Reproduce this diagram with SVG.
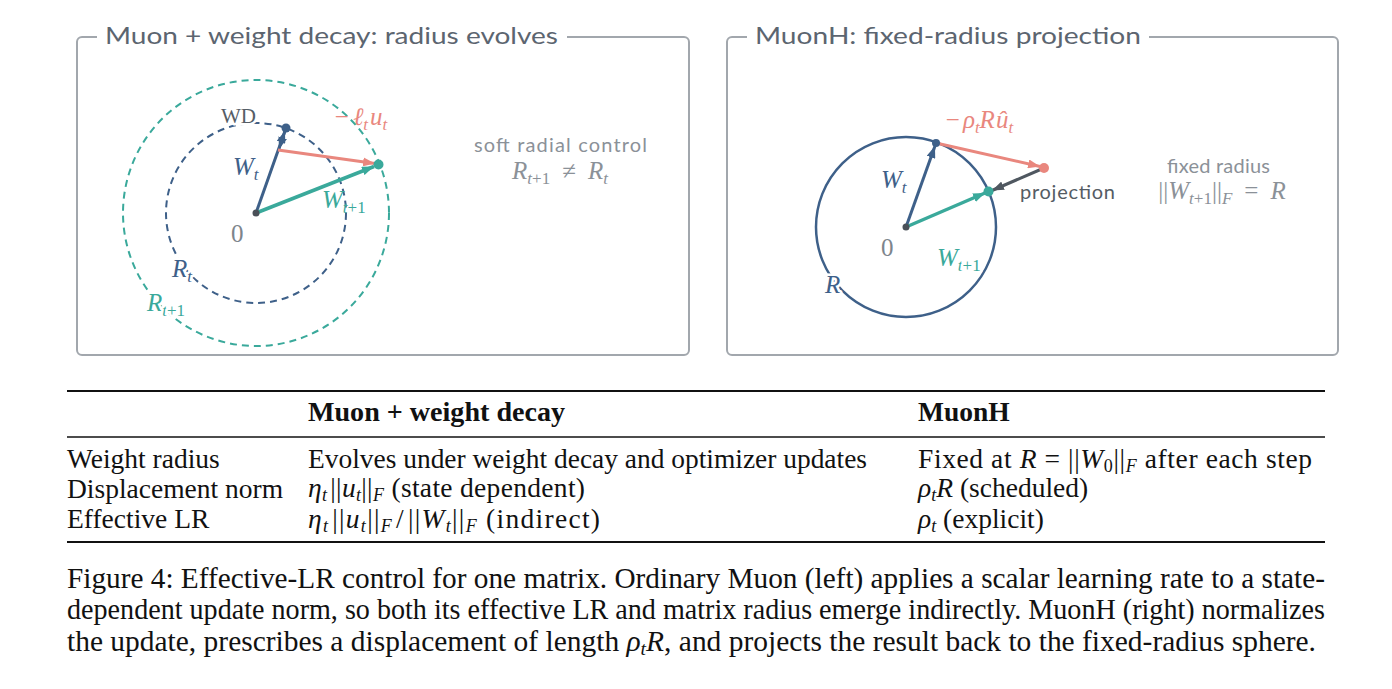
<svg xmlns="http://www.w3.org/2000/svg" width="1392" height="689" viewBox="0 0 1392 689">
<style>
.box{fill:none;stroke:#a2a7ad;stroke-width:2}
.title{font-family:Lato,"Open Sans",sans-serif;font-size:24px;fill:#5c6570}
.m{font-family:"Liberation Serif","DejaVu Serif",serif;font-style:italic;font-size:25px}
.up{font-style:normal}
.halo{paint-order:stroke;stroke:#fff;stroke-width:5px;stroke-linejoin:round}
.note{font-family:Lato,"Open Sans",sans-serif;font-size:20px;fill:#8b9198}
.tb{font-family:"Liberation Serif","DejaVu Serif",serif;font-size:27.5px;fill:#111}
.cap{font-family:"Liberation Serif","DejaVu Serif",serif;font-size:28.5px;fill:#111}
.blue{fill:#3e6089}.teal{fill:#3aa99b}.salmon{fill:#e9877e}.gray{fill:#7d858c}
</style>
<defs>
<marker id="hb" viewBox="0 0 12 9" refX="12" refY="4.5" markerWidth="12" markerHeight="9" markerUnits="userSpaceOnUse" orient="auto"><path d="M0,0 L12,4.5 L0,9 z" fill="#3e6089"/></marker>
<marker id="ht" viewBox="0 0 12 9" refX="12" refY="4.5" markerWidth="12" markerHeight="9" markerUnits="userSpaceOnUse" orient="auto"><path d="M0,0 L12,4.5 L0,9 z" fill="#3aa99b"/></marker>
<marker id="hs" viewBox="0 0 12 9" refX="12" refY="4.5" markerWidth="12" markerHeight="9" markerUnits="userSpaceOnUse" orient="auto"><path d="M0,0 L12,4.5 L0,9 z" fill="#e9877e"/></marker>
<marker id="hg" viewBox="0 0 12 9" refX="12" refY="4.5" markerWidth="12" markerHeight="9" markerUnits="userSpaceOnUse" orient="auto"><path d="M0,0 L12,4.5 L0,9 z" fill="#4f5760"/></marker>
</defs>
<rect width="1392" height="689" fill="#fff"/>

<!-- Left panel -->
<g id="panel-left">
<rect class="box" x="77" y="37" width="612" height="318" rx="5"/>
<rect x="97" y="30" width="470" height="14" fill="#fff"/>
<text class="title" x="105" y="44" textLength="453" lengthAdjust="spacingAndGlyphs">Muon + weight decay: radius evolves</text>
<circle cx="256" cy="213" r="133" fill="none" stroke="#3aa99b" stroke-width="2" stroke-dasharray="7 5"/>
<circle cx="256" cy="213" r="90" fill="none" stroke="#3e6089" stroke-width="2" stroke-dasharray="7 5"/>
</g>
<g id="connectors-left">
<line x1="256" y1="213" x2="285" y2="131" stroke="#3e6089" stroke-width="3" marker-end="url(#hb)"/>
<line x1="286" y1="128" x2="279" y2="149" stroke="#3e6089" stroke-width="2.5" marker-end="url(#hb)"/>
<line x1="278" y1="150" x2="375" y2="163.5" stroke="#e9877e" stroke-width="3" marker-end="url(#hs)"/>
<line x1="256" y1="213" x2="374" y2="166.5" stroke="#3aa99b" stroke-width="3.5" marker-end="url(#ht)"/>
<circle cx="286" cy="128" r="4.5" fill="#3e6089"/>
<circle cx="378.5" cy="164.5" r="5" fill="#3aa99b"/>
<circle cx="256" cy="213" r="3.5" fill="#4a5058"/>
</g>
<g id="labels-left">
<text x="221" y="123" font-family="'Liberation Serif',serif" font-size="21" fill="#555d66" class="halo">WD</text>
<text class="m salmon" x="333" y="125">−<tspan dx="3">ℓ</tspan><tspan font-size="17" dy="5">t</tspan><tspan dy="-5" dx="2">u</tspan><tspan font-size="17" dy="5">t</tspan></text>
<text class="m blue halo" x="233" y="175">W<tspan font-size="17" dy="5">t</tspan></text>
<text class="m teal" x="322" y="208">W<tspan font-size="17" dy="5">t<tspan class="up">+1</tspan></tspan></text>
<text class="m up gray" x="231" y="242">0</text>
<text class="m blue halo" x="172" y="277">R<tspan font-size="17" dy="5">t</tspan></text>
<text class="m teal halo" x="147" y="311">R<tspan font-size="17" dy="5">t<tspan class="up">+1</tspan></tspan></text>
<text class="note" x="474" y="152" textLength="173" lengthAdjust="spacing">soft radial control</text>
<text class="m" fill="#8b9198" x="560" y="179" text-anchor="middle">R<tspan font-size="17" dy="5">t<tspan class="up">+1</tspan></tspan><tspan class="up" dy="-5" dx="12">≠</tspan><tspan dx="12">R</tspan><tspan font-size="17" dy="5">t</tspan></text>
</g>

<!-- Right panel -->
<g id="panel-right">
<rect class="box" x="727" y="37" width="611" height="318" rx="5"/>
<rect x="747" y="30" width="402" height="14" fill="#fff"/>
<text class="title" x="755" y="44" textLength="386" lengthAdjust="spacingAndGlyphs">MuonH: fixed-radius projection</text>
<circle cx="906" cy="227" r="90" fill="none" stroke="#3e6089" stroke-width="2.5"/>
</g>
<g id="connectors-right">
<line x1="906" y1="227" x2="935" y2="146" stroke="#3e6089" stroke-width="3" marker-end="url(#hb)"/>
<line x1="936" y1="143" x2="1040" y2="166.5" stroke="#e9877e" stroke-width="3" marker-end="url(#hs)"/>
<line x1="1044" y1="168" x2="992" y2="190.5" stroke="#4f5760" stroke-width="3" marker-end="url(#hg)"/>
<line x1="906" y1="227" x2="985" y2="193" stroke="#3aa99b" stroke-width="3.5" marker-end="url(#ht)"/>
<circle cx="936" cy="143" r="4" fill="#3e6089"/>
<circle cx="1044" cy="168" r="5" fill="#e9877e"/>
<circle cx="988.5" cy="191.5" r="5" fill="#3aa99b"/>
<circle cx="906" cy="227" r="3.5" fill="#4a5058"/>
</g>
<g id="labels-right">
<text class="m salmon" x="944" y="128">−<tspan dx="2">ρ</tspan><tspan font-size="17" dy="5">t</tspan><tspan dy="-5">R</tspan><tspan dx="1">û</tspan><tspan font-size="17" dy="5">t</tspan></text>
<text class="m blue" x="881" y="188">W<tspan font-size="17" dy="5">t</tspan></text>
<text x="1020" y="199" font-family="Lato,'Open Sans',sans-serif" font-size="20" fill="#555c64" textLength="95" lengthAdjust="spacing">projection</text>
<text class="m up gray" x="881" y="256">0</text>
<text class="m teal halo" x="937" y="266">W<tspan font-size="17" dy="5">t<tspan class="up">+1</tspan></tspan></text>
<text class="m blue halo" x="825" y="293">R</text>
<text class="note" x="1167" y="173" textLength="103" lengthAdjust="spacing">fixed radius</text>
<text class="m" fill="#8b9198" x="1222" y="199" text-anchor="middle"><tspan class="up">||</tspan>W<tspan font-size="17" dy="5">t<tspan class="up">+1</tspan></tspan><tspan class="up" dy="-5">||</tspan><tspan font-size="17" dy="5">F</tspan><tspan class="up" dy="-5" dx="12">=</tspan><tspan dx="12">R</tspan></text>
</g>

<!-- Table -->
<g id="table">
<line x1="67" y1="391" x2="1325" y2="391" stroke="#111" stroke-width="2.2"/>
<line x1="67" y1="437" x2="1325" y2="437" stroke="#111" stroke-width="1.3"/>
<line x1="67" y1="542" x2="1325" y2="542" stroke="#111" stroke-width="2.2"/>
<text class="tb" x="308" y="421" font-weight="bold" textLength="257" lengthAdjust="spacingAndGlyphs">Muon + weight decay</text>
<text class="tb" x="918" y="421" font-weight="bold">MuonH</text>
<text class="tb" x="67" y="468">Weight radius</text>
<text class="tb" x="67" y="498">Displacement norm</text>
<text class="tb" x="67" y="528">Effective LR</text>
<text class="tb" x="308" y="468" textLength="559" lengthAdjust="spacingAndGlyphs">Evolves under weight decay and optimizer updates</text>
<text class="tb" x="308" y="497" textLength="277" lengthAdjust="spacing"><tspan font-style="italic">η</tspan><tspan font-style="italic" font-size="18" dy="4">t</tspan><tspan dy="-4" dx="3">||</tspan><tspan font-style="italic">u</tspan><tspan font-style="italic" font-size="18" dy="4">t</tspan><tspan dy="-4">||</tspan><tspan font-style="italic" font-size="18" dy="4">F</tspan><tspan dy="-4"> (state dependent)</tspan></text>
<text class="tb" x="308" y="528" textLength="292" lengthAdjust="spacing"><tspan font-style="italic">η</tspan><tspan font-style="italic" font-size="18" dy="4">t</tspan><tspan dy="-4" dx="3">||</tspan><tspan font-style="italic">u</tspan><tspan font-style="italic" font-size="18" dy="4">t</tspan><tspan dy="-4">||</tspan><tspan font-style="italic" font-size="18" dy="4">F</tspan><tspan dy="-4" dx="3">/</tspan><tspan dx="3">||</tspan><tspan font-style="italic">W</tspan><tspan font-style="italic" font-size="18" dy="4">t</tspan><tspan dy="-4">||</tspan><tspan font-style="italic" font-size="18" dy="4">F</tspan><tspan dy="-4"> (indirect)</tspan></text>
<text class="tb" x="918" y="468" textLength="394" lengthAdjust="spacing">Fixed at <tspan font-style="italic">R</tspan> = ||<tspan font-style="italic">W</tspan><tspan font-size="18" dy="4">0</tspan><tspan dy="-4">||</tspan><tspan font-style="italic" font-size="18" dy="4">F</tspan><tspan dy="-4"> after each step</tspan></text>
<text class="tb" x="918" y="497"><tspan font-style="italic">ρ</tspan><tspan font-style="italic" font-size="18" dy="4">t</tspan><tspan font-style="italic" dy="-4">R</tspan> (scheduled)</text>
<text class="tb" x="918" y="528"><tspan font-style="italic">ρ</tspan><tspan font-style="italic" font-size="18" dy="4">t</tspan><tspan dy="-4"> (explicit)</tspan></text>
</g>

<!-- Caption -->
<g id="caption">
<text class="cap" x="67" y="588" textLength="1258" lengthAdjust="spacingAndGlyphs">Figure 4:  Effective-LR control for one matrix.  Ordinary Muon (left) applies a scalar learning rate to a state-</text>
<text class="cap" x="67" y="619" textLength="1258" lengthAdjust="spacingAndGlyphs">dependent update norm, so both its effective LR and matrix radius emerge indirectly. MuonH (right) normalizes</text>
<text class="cap" x="67" y="651" textLength="1249" lengthAdjust="spacingAndGlyphs">the update, prescribes a displacement of length <tspan font-style="italic">ρ</tspan><tspan font-style="italic" font-size="19" dy="4">t</tspan><tspan font-style="italic" dy="-4">R</tspan>, and projects the result back to the fixed-radius sphere.</text>
</g>
</svg>
